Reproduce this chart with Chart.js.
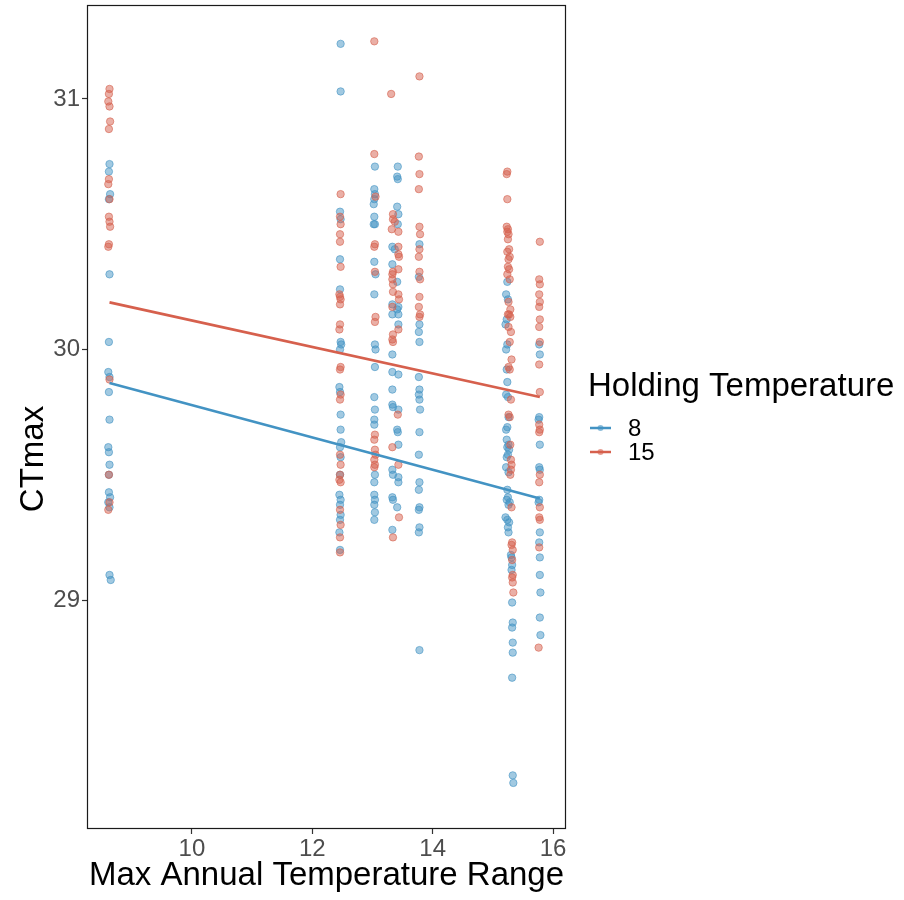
<!DOCTYPE html>
<html>
<head>
<meta charset="utf-8">
<script src="https://cdn.jsdelivr.net/npm/chart.js@4.4.1/dist/chart.umd.min.js"></script>
<style>
html,body{margin:0;padding:0;background:#fff;}
#wrap{position:relative;width:904px;height:900px;}
</style>
</head>
<body>
<div id="wrap"><canvas id="c" width="904" height="900"></canvas></div>
<script>
// ---- data ----
const seriesNames = ["8", "15"];
const legendTitle = "Holding Temperature";
const xTitle = "Max Annual Temperature Range";
const yTitle = "CTmax";
const xTickValues = [10, 12, 14, 16];
const yTickValues = [29, 30, 31];

// Holding temperature 8 (blue) points, by site column
const b86 = [[8.63,30.74],[8.62,30.71],[8.64,30.62],[8.62,30.60],[8.63,30.30],[8.62,30.03],[8.61,29.91],[8.63,29.89],[8.62,29.83],[8.63,29.72],[8.61,29.61],[8.62,29.59],[8.63,29.54],[8.62,29.50],[8.62,29.43],[8.64,29.41],[8.61,29.39],[8.63,29.37],[8.63,29.10],[8.65,29.08]];
const b125 = [[12.47,31.22],[12.47,31.03],[12.46,30.55],[12.47,30.52],[12.46,30.36],[12.46,30.24],[12.47,30.03],[12.48,30.02],[12.46,30.00],[12.45,29.85],[12.46,29.83],[12.47,29.74],[12.47,29.68],[12.48,29.63],[12.46,29.61],[12.47,29.57],[12.46,29.50],[12.45,29.42],[12.47,29.40],[12.46,29.38],[12.47,29.34],[12.46,29.32],[12.45,29.27],[12.46,29.20]];
const b130 = [[13.04,30.73],[13.03,30.64],[13.04,30.62],[13.03,30.60],[13.02,30.58],[13.03,30.53],[13.04,30.50],[13.02,30.50],[13.03,30.35],[13.05,30.30],[13.03,30.22],[13.04,30.02],[13.05,30.00],[13.04,29.93],[13.03,29.81],[13.04,29.76],[13.03,29.72],[13.03,29.70],[13.04,29.50],[13.03,29.47],[13.03,29.42],[13.04,29.40],[13.03,29.38],[13.04,29.35],[13.03,29.32]];
const b134 = [[13.42,30.73],[13.41,30.69],[13.42,30.68],[13.41,30.57],[13.43,30.54],[13.42,30.50],[13.33,30.41],[13.37,30.40],[13.33,30.34],[13.41,30.27],[13.33,30.18],[13.43,30.17],[13.41,30.16],[13.33,30.14],[13.43,30.14],[13.43,30.10],[13.33,29.98],[13.33,29.91],[13.43,29.90],[13.33,29.84],[13.33,29.78],[13.34,29.77],[13.43,29.76],[13.41,29.68],[13.42,29.67],[13.43,29.62],[13.33,29.52],[13.34,29.50],[13.43,29.49],[13.43,29.47],[13.33,29.41],[13.34,29.40],[13.41,29.37],[13.33,29.28]];
const b138 = [[13.78,30.42],[13.77,30.29],[13.78,30.10],[13.77,30.07],[13.78,30.03],[13.77,29.89],[13.78,29.84],[13.77,29.82],[13.78,29.80],[13.79,29.76],[13.78,29.67],[13.77,29.58],[13.78,29.47],[13.77,29.44],[13.78,29.37],[13.77,29.36],[13.78,29.29],[13.77,29.27],[13.78,28.80]];
const b153 = [[15.24,30.27],[15.22,30.22],[15.25,30.20],[15.23,30.12],[15.21,30.10],[15.24,30.02],[15.22,30.00],[15.23,29.92],[15.24,29.87],[15.22,29.82],[15.25,29.81],[15.26,29.73],[15.24,29.69],[15.22,29.68],[15.23,29.64],[15.26,29.62],[15.24,29.61],[15.27,29.60],[15.25,29.58],[15.23,29.57],[15.22,29.53],[15.26,29.51],[15.24,29.44],[15.25,29.41],[15.23,29.40],[15.28,29.39],[15.26,29.38],[15.21,29.33],[15.24,29.32],[15.27,29.31],[15.25,29.29],[15.26,29.27],[15.30,29.18],[15.31,29.17],[15.32,29.14],[15.31,29.12],[15.32,28.99],[15.33,28.91],[15.32,28.89],[15.33,28.83],[15.33,28.79],[15.32,28.69],[15.33,28.30],[15.34,28.27]];
const b158 = [[15.77,30.02],[15.78,29.98],[15.77,29.73],[15.76,29.72],[15.78,29.62],[15.77,29.53],[15.78,29.52],[15.77,29.40],[15.76,29.39],[15.78,29.27],[15.77,29.23],[15.78,29.17],[15.78,29.10],[15.79,29.03],[15.78,28.93],[15.79,28.86]];

// Holding temperature 15 (red) points, by site column
const r86 = [[8.63,31.04],[8.62,31.02],[8.61,30.99],[8.63,30.97],[8.64,30.91],[8.62,30.88],[8.62,30.68],[8.61,30.66],[8.63,30.60],[8.62,30.53],[8.63,30.51],[8.64,30.49],[8.62,30.42],[8.61,30.41],[8.63,29.88],[8.62,29.50],[8.63,29.39],[8.61,29.36]];
const r125 = [[12.47,30.62],[12.46,30.53],[12.47,30.50],[12.46,30.46],[12.46,30.43],[12.47,30.33],[12.45,30.22],[12.46,30.21],[12.47,30.20],[12.46,30.18],[12.46,30.10],[12.45,30.08],[12.47,29.93],[12.46,29.92],[12.47,29.82],[12.46,29.80],[12.46,29.58],[12.47,29.54],[12.46,29.50],[12.45,29.48],[12.47,29.47],[12.46,29.36],[12.47,29.30],[12.46,29.25],[12.46,29.19]];
const r130 = [[13.03,31.23],[13.03,30.78],[13.05,30.61],[13.04,30.42],[13.03,30.41],[13.04,30.31],[13.05,30.13],[13.04,30.11],[13.04,29.66],[13.03,29.64],[13.04,29.60],[13.05,29.58],[13.03,29.56],[13.04,29.54],[13.03,29.53]];
const r134 = [[13.31,31.02],[13.34,30.54],[13.34,30.52],[13.37,30.51],[13.32,30.48],[13.43,30.47],[13.43,30.41],[13.43,30.38],[13.44,30.37],[13.43,30.32],[13.34,30.31],[13.33,30.30],[13.33,30.28],[13.34,30.26],[13.34,30.23],[13.43,30.22],[13.44,30.20],[13.33,30.17],[13.43,30.08],[13.34,30.06],[13.33,30.04],[13.34,30.03],[13.42,29.74],[13.33,29.61],[13.43,29.54],[13.44,29.33],[13.34,29.25]];
const r138 = [[13.78,31.09],[13.77,30.77],[13.78,30.70],[13.77,30.64],[13.78,30.49],[13.79,30.46],[13.78,30.40],[13.77,30.37],[13.78,30.31],[13.79,30.28],[13.78,30.21],[13.77,30.17],[13.79,30.14],[13.78,30.13]];
const r153 = [[15.24,30.71],[15.23,30.70],[15.24,30.60],[15.23,30.49],[15.25,30.48],[15.24,30.47],[15.26,30.46],[15.25,30.44],[15.27,30.40],[15.24,30.39],[15.28,30.37],[15.26,30.36],[15.25,30.33],[15.27,30.32],[15.24,30.30],[15.28,30.28],[15.26,30.19],[15.29,30.16],[15.25,30.14],[15.27,30.14],[15.29,30.13],[15.26,30.09],[15.30,30.07],[15.28,30.03],[15.31,29.96],[15.26,29.93],[15.28,29.92],[15.30,29.80],[15.26,29.74],[15.28,29.73],[15.29,29.62],[15.30,29.56],[15.31,29.54],[15.30,29.52],[15.29,29.50],[15.31,29.37],[15.32,29.23],[15.31,29.22],[15.33,29.20],[15.32,29.16],[15.33,29.10],[15.32,29.09],[15.33,29.07],[15.34,29.03]];
const r158 = [[15.78,30.43],[15.77,30.28],[15.78,30.26],[15.77,30.22],[15.78,30.19],[15.77,30.17],[15.78,30.12],[15.77,30.09],[15.78,30.03],[15.77,29.94],[15.78,29.83],[15.77,29.70],[15.78,29.68],[15.77,29.67],[15.78,29.50],[15.77,29.47],[15.78,29.37],[15.77,29.33],[15.78,29.32],[15.77,29.21],[15.76,28.81]];

// fitted regression lines (end points)
const fitX = [8.63, 15.78];
const fit8 = [29.866, 29.405];
const fit15 = [30.188, 29.81];

// ---- styling ----
const BLUE = "67,147,195";
const RED = "214,96,77";
const FONT = "'Liberation Sans', Arial, Helvetica, sans-serif";

const toPts = arr => arr.map(p => ({x: p[0], y: p[1]}));
const bluePts = [].concat(b86, b125, b130, b134, b138, b153, b158);
const redPts = [].concat(r86, r125, r130, r134, r138, r153, r158);

const fitLine = ys => fitX.map((x, i) => ({x: x, y: ys[i]}));

const framePlugin = {
  id: 'frame',
  afterDraw(chart) {
    const ctx = chart.ctx;
    const a = chart.chartArea;
    ctx.save();
    ctx.strokeStyle = '#1a1a1a';
    ctx.lineWidth = 1.2;
    ctx.strokeRect(a.left + 0.5, a.top + 0.5, a.right - a.left - 1, a.bottom - a.top - 1);
    // y axis title
    ctx.save();
    ctx.translate(34, 459);
    ctx.rotate(-Math.PI / 2);
    ctx.fillStyle = '#000';
    ctx.font = '33px ' + FONT;
    ctx.textAlign = 'center';
    ctx.textBaseline = 'middle';
    ctx.fillText(yTitle, 0, 0);
    ctx.restore();
    // legend
    ctx.fillStyle = '#000';
    ctx.font = '33px ' + FONT;
    ctx.textBaseline = 'alphabetic';
    ctx.textAlign = 'left';
    ctx.fillText(legendTitle, 588, 396);
    const cols = [BLUE, RED];
    const ys = [428, 452];
    seriesNames.forEach((name, i) => {
      const y = ys[i];
      ctx.strokeStyle = 'rgb(' + cols[i] + ')';
      ctx.lineWidth = 2.5;
      ctx.beginPath();
      ctx.moveTo(590, y);
      ctx.lineTo(611, y);
      ctx.stroke();
      ctx.fillStyle = 'rgba(' + cols[i] + ',0.6)';
      ctx.beginPath();
      ctx.arc(600.5, y, 3, 0, Math.PI * 2);
      ctx.fill();
      ctx.fillStyle = '#000';
      ctx.font = '24px ' + FONT;
      ctx.textBaseline = 'middle';
      ctx.fillText(name, 628, y + 1);
    });
    ctx.restore();
  }
};

const pointStyle = c => ({
  type: 'scatter',
  backgroundColor: 'rgba(' + c + ',0.5)',
  borderColor: 'rgba(' + c + ',0.6)',
  borderWidth: 1,
  pointRadius: 3.7,
  pointHoverRadius: 3.7
});

new Chart(document.getElementById('c'), {
  data: {
    datasets: [
      {type: 'line', label: seriesNames[0] + ' fit', data: fitLine(fit8), borderColor: 'rgb(' + BLUE + ')', borderWidth: 2.6, pointRadius: 0, fill: false},
      {type: 'line', label: seriesNames[1] + ' fit', data: fitLine(fit15), borderColor: 'rgb(' + RED + ')', borderWidth: 2.6, pointRadius: 0, fill: false},
      Object.assign({label: seriesNames[1], data: toPts(redPts)}, pointStyle(RED)),
      Object.assign({label: seriesNames[0], data: toPts(bluePts)}, pointStyle(BLUE))
    ]
  },
  options: {
    responsive: false,
    animation: false,
    events: [],
    layout: {padding: {left: 0, right: 338, top: 5, bottom: 0}},
    plugins: {legend: {display: false}, tooltip: {enabled: false}},
    scales: {
      x: {
        type: 'linear',
        min: 8.256, max: 16.215,
        afterBuildTicks: s => { s.ticks = xTickValues.map(v => ({value: v})); },
        afterFit: s => { s.height = 71; s.paddingLeft = 0; s.paddingRight = 0; },
        ticks: {font: {size: 24, family: FONT}, color: '#4D4D4D', padding: 1, maxRotation: 0,
                callback: v => String(v)},
        grid: {display: true, drawOnChartArea: false, drawTicks: true, tickLength: 5, tickColor: '#333', tickWidth: 1.2},
        border: {display: false},
        title: {display: true, text: xTitle, color: '#000', font: {size: 33, family: FONT}, padding: {top: 0, bottom: 4}}
      },
      y: {
        type: 'linear',
        min: 28.086, max: 31.375,
        afterBuildTicks: s => { s.ticks = yTickValues.map(v => ({value: v})); },
        afterFit: s => { s.width = 87; s.paddingTop = 0; s.paddingBottom = 0; },
        ticks: {font: {size: 24, family: FONT}, color: '#4D4D4D', padding: 2,
                callback: v => String(v)},
        grid: {display: true, drawOnChartArea: false, drawTicks: true, tickLength: 5, tickColor: '#333', tickWidth: 1.2},
        border: {display: false},
        title: {display: false}
      }
    }
  },
  plugins: [framePlugin]
});
</script>
</body>
</html>
